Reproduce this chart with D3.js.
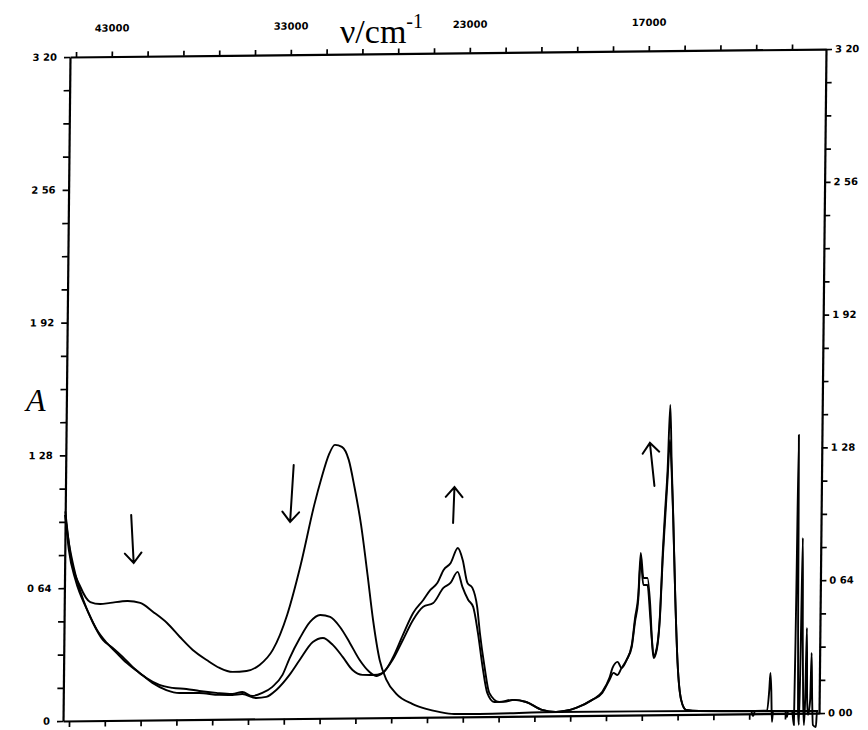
<!DOCTYPE html>
<html><head><meta charset="utf-8">
<script src="https://cdn.jsdelivr.net/npm/d3@7"></script>
<style>body{margin:0;background:#fff}</style>
</head><body>
<script>
// ---------- data ----------
const xLabelValues = [43000, 33000, 23000, 17000];
const xLabelText = ["43000", "33000", "23000", "17000"];
const xTickValues = [45000,43000,41000,39000,37000,35000,33000,31000,29000,27000,25000,23000,
                     21800,20600,19400,18200,17000,15800,14600,13400,12200];
const xExtent = [45336, 11060];
const yTickValues = [0,0.16,0.32,0.48,0.64,0.8,0.96,1.12,1.28,1.44,1.6,1.76,1.92,2.08,2.24,2.4,2.56,2.72,2.88,3.04,3.2];
const yLabelValues = [3.2, 2.56, 1.92, 1.28, 0.64, 0];
const yLabelLeft = ["3 20", "2 56", "1 92", "1 28", "0 64", "0"];
const yLabelRight = ["3 20", "2 56", "1 92", "1 28", "0 64", "0 00"];

// spectrum 1 (initial)
const specInitial = [[45330,1.01],[45000,0.79],[44441,0.645],[43883,0.572],[43324,0.562],[42765,0.567],[41815,0.575],
 [41089,0.565],[40363,0.521],[39581,0.467],[38854,0.399],[38128,0.336],[37346,0.287],[36620,0.248],[35893,0.228],
 [35111,0.232],[34385,0.260],[33658,0.332],[32876,0.500],[32150,0.740],[31424,1.029],[31033,1.159],[30642,1.269],
 [30307,1.317],[29915,1.307],[29524,1.244],[29189,1.113],[28798,0.930],[28407,0.689],[28072,0.471],[27680,0.278],
 [27289,0.182],[26730,0.114],[25836,0.065],[25054,0.040],[24328,0.025],[23490,0.014],[22457,0.013],[19775,0.018],
 [15082,0.016],[11093,0.010]];

// spectrum 2 (intermediate)
const specMiddle = [[45330,0.993],[45168,0.887],[44832,0.742],[44274,0.582],[43715,0.471],[43156,0.389],[42598,0.350],
 [42039,0.306],[41480,0.257],[40698,0.203],[39972,0.169],[39246,0.154],[38463,0.148],[37737,0.138],[36787,0.128],
 [35893,0.122],[35335,0.131],[34776,0.111],[34217,0.125],[33658,0.154],[33100,0.211],[32709,0.292],[32150,0.388],
 [31591,0.465],[31033,0.498],[30474,0.488],[29915,0.439],[29356,0.362],[28798,0.279],[28239,0.221],[27848,0.201],
 [27513,0.215],[26954,0.278],[26395,0.373],[25837,0.469],[25278,0.532],[24720,0.550],[24161,0.622],[23769,0.646],
 [23378,0.699],[23099,0.626],[22859,0.563],[22692,0.529],[22524,0.404],[22356,0.240],[22189,0.114],[21954,0.070],
 [21619,0.070],[21284,0.079],[20881,0.068],[20345,0.029],[19876,0.019],[19205,0.037],[18669,0.075],[18334,0.108],
 [18099,0.170],[17965,0.204],[17831,0.194],[17697,0.227],[17529,0.266],[17362,0.328],[17261,0.449],[17161,0.554],
 [17094,0.747],[16993,0.626],[16859,0.626],[16758,0.481],[16691,0.361],[16624,0.274],[16524,0.312],[16423,0.481],
 [16356,0.746],[16289,0.939],[16222,1.131],[16155,1.324],[16088,1.179],[16021,0.962],[15921,0.567],[15820,0.249],
 [15686,0.070],[15518,0.022],[15082,0.016],[11093,0.010]];

// spectrum 3 (final)
const specFinal = [[45330,0.993],[45112,0.824],[44721,0.679],[44050,0.534],[43491,0.437],[42933,0.374],[42374,0.325],
 [41815,0.277],[41089,0.228],[40363,0.179],[39581,0.144],[38854,0.129],[37737,0.128],[36620,0.118],[35893,0.117],
 [35335,0.121],[34553,0.101],[33994,0.106],[33436,0.139],[32709,0.211],[32150,0.282],[31424,0.368],[30865,0.387],
 [30307,0.353],[29748,0.295],[29189,0.231],[28630,0.207],[28072,0.206],[27513,0.215],[26954,0.287],[26395,0.398],
 [25837,0.503],[25278,0.565],[24887,0.613],[24496,0.647],[24161,0.709],[23769,0.742],[23378,0.814],[23099,0.756],
 [22893,0.645],[22725,0.621],[22558,0.529],[22457,0.403],[22289,0.239],[22122,0.114],[21787,0.070],[21351,0.079],
 [20881,0.068],[20345,0.029],[19876,0.019],[19205,0.037],[18669,0.075],[18334,0.113],[18099,0.180],[17999,0.228],
 [17831,0.257],[17697,0.227],[17529,0.266],[17362,0.338],[17261,0.468],[17161,0.578],[17094,0.781],[16993,0.660],
 [16859,0.660],[16758,0.530],[16691,0.371],[16624,0.284],[16524,0.322],[16423,0.495],[16356,0.780],[16289,0.987],
 [16222,1.179],[16155,1.493],[16088,1.213],[16021,0.972],[15921,0.567],[15820,0.249],[15686,0.070],[15518,0.022],
 [15082,0.016],[13339,0.014],[13272,-0.011],[13205,0.014],[12803,0.014],[12736,0.114],[12703,0.196],[12669,0.114],
 [12636,-0.040],[12602,0.013],[12200,0.012],[12133,-0.017],[12100,0.012],[11966,0.012],[11899,-0.056],[11865,0.546],
 [11832,1.342],[11798,0.546],[11765,0.016],[11731,-0.056],[11698,0.305],[11664,0.845],[11631,0.353],[11597,0.064],
 [11563,-0.057],[11530,0.064],[11496,0.411],[11463,0.064],[11429,-0.008],[11362,0.064],[11329,0.290],[11295,0.064],
 [11262,-0.057],[11161,-0.067],[11128,0.010],[11094,0.010]];

// hand-drawn arrows (tail -> head) in data units
const arrows = [
  {from:[41648,0.990], to:[41480,0.758]},
  {from:[32597,1.222], to:[32765,0.948]},
  {from:[23658,0.935], to:[23602,1.108]},
  {from:[16658,1.103], to:[16825,1.311]}
];

// ---------- layout ----------
const Wsvg = 868, Hsvg = 730;
const W = 756, H = 664;
const tick0 = 6, tickStep = 35.8;

const svg = d3.select("body").append("svg").attr("width", Wsvg).attr("height", Hsvg)
  .style("background", "#fff");

const x = d3.scaleLinear()
  .domain([xExtent[0], ...xLabelValues, xExtent[1]])
  .range([0, ...xLabelValues.map(v => tick0 + tickStep * xTickValues.indexOf(v)), W]);
const y = d3.scaleLinear().domain([0, 3.2]).range([H, 0]);

// slight skew like the scanned plot
const g = svg.append("g").attr("transform", "matrix(1,-0.0105,-0.0105,1,70,57)");

function styleAxis(sel) {
  sel.select(".domain").attr("stroke", "#000").attr("stroke-width", 2.2);
  sel.selectAll(".tick line").attr("stroke", "#000").attr("stroke-width", 1.7);
}

g.append("g").call(d3.axisTop(x).tickValues(xTickValues).tickSize(5).tickSizeOuter(0).tickFormat(""))
  .call(styleAxis);
g.append("g").attr("transform", `translate(0,${H})`)
  .call(d3.axisBottom(x).tickValues(xTickValues).tickSize(6).tickSizeOuter(0).tickFormat(""))
  .call(styleAxis);
g.append("g").call(d3.axisLeft(y).tickValues(yTickValues).tickSize(6).tickSizeOuter(0).tickFormat(""))
  .call(styleAxis);
g.append("g").attr("transform", `translate(${W},0)`)
  .call(d3.axisRight(y).tickValues(yTickValues).tickSize(6).tickSizeOuter(0).tickFormat(""))
  .call(styleAxis);

const tickFont = "'DejaVu Sans', sans-serif";
g.selectAll(".xlab").data(xLabelValues).join("text")
  .attr("x", d => x(d)).attr("y", -25)
  .attr("text-anchor", "middle")
  .style("font-family", tickFont).style("font-size", "10px").style("font-weight", "bold")
  .text((d, i) => xLabelText[i]);

g.selectAll(".ylabL").data(yLabelValues).join("text")
  .attr("x", -13).attr("y", d => y(d)).attr("dy", "0.35em")
  .attr("text-anchor", "end")
  .style("font-family", tickFont).style("font-size", "10px").style("font-weight", "bold")
  .text((d, i) => yLabelLeft[i]);

g.selectAll(".ylabR").data(yLabelValues).join("text")
  .attr("x", W + 9).attr("y", d => y(d)).attr("dy", "0.35em")
  .attr("text-anchor", "start")
  .style("font-family", tickFont).style("font-size", "10px").style("font-weight", "bold")
  .text((d, i) => yLabelRight[i]);

// spectra
const line = d3.line().x(d => x(d[0])).y(d => y(d[1])).curve(d3.curveMonotoneX);
[specInitial, specMiddle, specFinal].forEach(s => {
  g.append("path").datum(s).attr("d", line)
    .attr("fill", "none").attr("stroke", "#000").attr("stroke-width", 1.9)
    .attr("stroke-linejoin", "round");
});

// arrows
const headLen = 13, headAng = 40 * Math.PI / 180;
arrows.forEach(a => {
  const x1 = x(a.from[0]), y1 = y(a.from[1]), x2 = x(a.to[0]), y2 = y(a.to[1]);
  const ang = Math.atan2(y2 - y1, x2 - x1);
  const p = d3.path();
  p.moveTo(x1, y1); p.lineTo(x2, y2);
  p.moveTo(x2 - headLen * Math.cos(ang - headAng), y2 - headLen * Math.sin(ang - headAng));
  p.lineTo(x2, y2);
  p.lineTo(x2 - headLen * Math.cos(ang + headAng), y2 - headLen * Math.sin(ang + headAng));
  g.append("path").attr("d", p.toString()).attr("fill", "none")
    .attr("stroke", "#000").attr("stroke-width", 2).attr("stroke-linecap", "round");
});

// axis titles
const title = svg.append("text").attr("x", 340).attr("y", 43)
  .style("font-family", "'Liberation Serif', 'Times New Roman', serif").style("font-size", "34px");
title.append("tspan").text("ν/cm");
title.append("tspan").attr("dy", -15).style("font-size", "20px").text("-1");

svg.append("text").attr("x", 26).attr("y", 411)
  .style("font-family", "'Liberation Serif', 'Times New Roman', serif")
  .style("font-size", "32px").style("font-style", "italic").text("A");
</script>
</body></html>
